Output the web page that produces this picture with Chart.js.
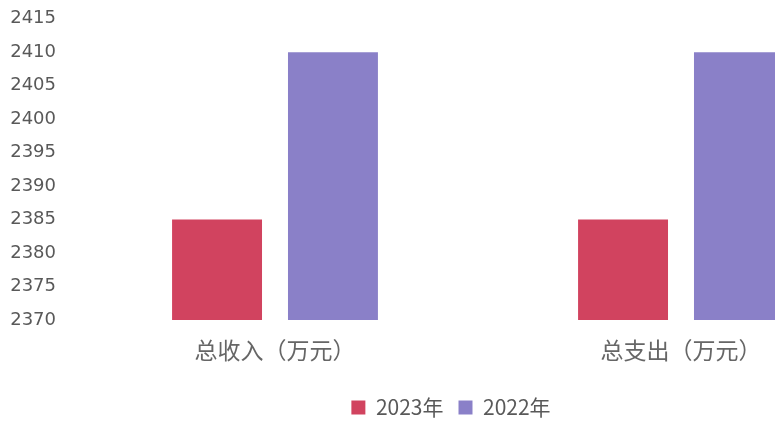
<!DOCTYPE html>
<html>
<head>
<meta charset="utf-8">
<script src="https://cdn.jsdelivr.net/npm/chart.js@4"></script>
<style>
  body { margin: 0; overflow: hidden; background: #fff; }
  #wrap { width: 900px; height: 428px; }
</style>
</head>
<body>
<div id="wrap"><canvas id="chart"></canvas></div>
<script>
// values (万元)
const categories = ['总收入（万元）', '总支出（万元）'];
const series_names = ['2023年', '2022年'];
const values_2023 = [2385, 2385];
const values_2022 = [2410, 2410];
const y_min = 2370;
const y_max = 2415;
const y_step = 5;

const RED = '#d1435f';
const PURPLE = '#8a80c8';
const CJK = '"Noto Sans CJK SC", "DejaVu Sans", sans-serif';

// let the y labels run into the left padding instead of being clipped
const unclip_y = {
  id: 'unclip_y',
  afterLayout(chart) {
    chart.scales.y.left = 0;
  }
};

new Chart(document.getElementById('chart'), {
  type: 'bar',
  data: {
    labels: categories,
    datasets: [
      { label: series_names[0], data: values_2023, backgroundColor: RED },
      { label: series_names[1], data: values_2022, backgroundColor: PURPLE }
    ]
  },
  plugins: [unclip_y],
  options: {
    responsive: true,
    maintainAspectRatio: false,
    animation: false,
    layout: { padding: { top: 10, right: 16, left: 18, bottom: 0 } },
    datasets: {
      bar: { categoryPercentage: 0.571, barPercentage: 0.776 }
    },
    scales: {
      x: {
        grid: { display: false },
        border: { display: false },
        // extra room under the labels, before the legend
        afterFit: (axis) => { axis.height = 62; },
        ticks: {
          color: '#666',
          padding: 8,
          font: { family: CJK, size: 23 }
        }
      },
      y: {
        min: y_min,
        max: y_max,
        grid: { display: false },
        border: { display: false },
        afterFit: (axis) => { axis.width = 54; },
        ticks: {
          stepSize: y_step,
          color: '#595959',
          padding: 8,
          callback: (v) => String(v),
          font: { family: '"DejaVu Sans", sans-serif', size: 18 }
        }
      }
    },
    plugins: {
      tooltip: { enabled: false },
      legend: {
        position: 'bottom',
        labels: {
          color: '#595959',
          boxWidth: 14,
          boxHeight: 14,
          padding: 15,
          font: { family: CJK, size: 21 }
        }
      }
    }
  }
});
</script>
</body>
</html>
